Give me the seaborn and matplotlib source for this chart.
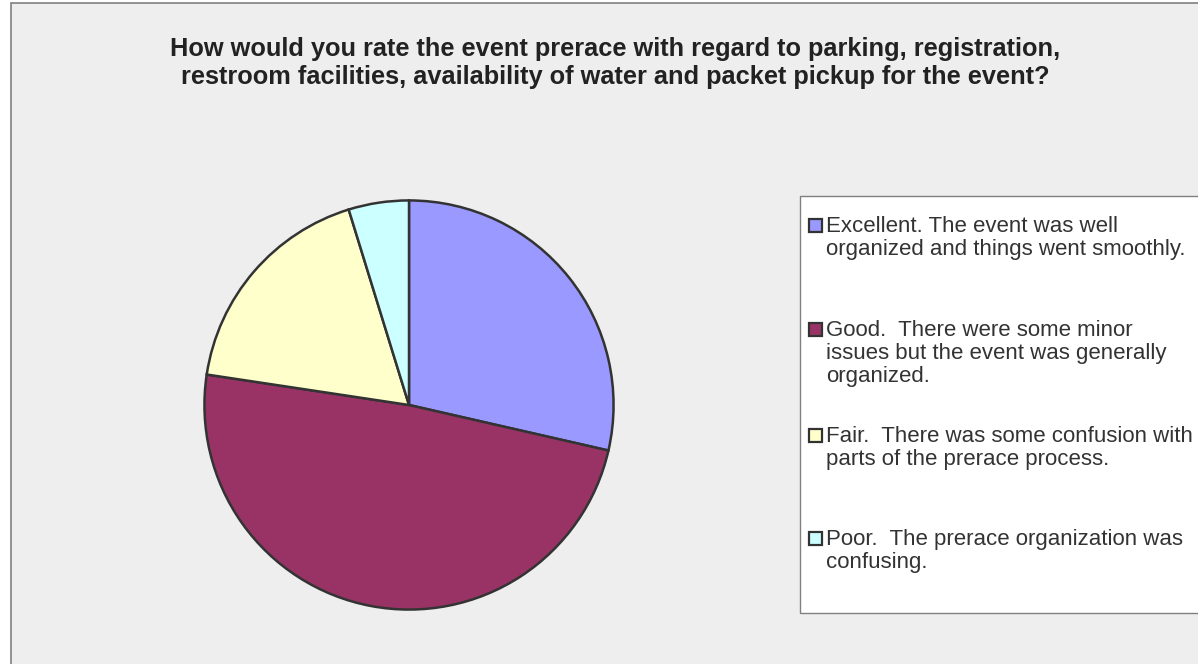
import matplotlib
matplotlib.use("Agg")
from matplotlib import pyplot as plt
from matplotlib.patches import Rectangle
import seaborn as sns
import pandas as pd

# survey answers
ratings = ["Excellent", "Good", "Fair", "Poor"]
counts = [24, 41, 15, 4]
labels = [
    "Excellent. The event was well\norganized and things went smoothly.",
    "Good.  There were some minor\nissues but the event was generally\norganized.",
    "Fair.  There was some confusion with\nparts of the prerace process.",
    "Poor.  The prerace organization was\nconfusing.",
]
colors = ["#9999FF", "#993366", "#FFFFCC", "#CCFFFF"]
title = ("How would you rate the event prerace with regard to parking, registration,\n"
         "restroom facilities, availability of water and packet pickup for the event?")

df = pd.DataFrame({"rating": ratings, "count": counts, "label": labels, "color": colors})

sns.set_style("white")
plt.rcParams["font.family"] = ["Liberation Sans", "DejaVu Sans"]

W, H = 1198, 664
fig = plt.figure(figsize=(W / 100, H / 100), dpi=100)
fig.patch.set_facecolor("white")

# pixel-space overlay for the chart frame, title and legend
bg = fig.add_axes([0, 0, 1, 1], zorder=0)
bg.set_xlim(0, W)
bg.set_ylim(H, 0)
bg.axis("off")
bg.add_patch(Rectangle((11, 3), W + 20, H + 20, facecolor="#EEEEEE",
                       edgecolor="#808080", linewidth=1.2))

for i, line in enumerate(title.split("\n")):
    bg.text(615, 56 + 28 * i, line, ha="center", va="baseline",
            fontsize=18.3, fontweight="bold", color="#222222")

# legend box
bg.add_patch(Rectangle((800, 196), W, 417, facecolor="white",
                       edgecolor="#808080", linewidth=1.0))
entry_y = [232, 336, 442, 545]
for y0, (_, row) in zip(entry_y, df.iterrows()):
    bg.add_patch(Rectangle((809, y0 - 13), 13, 13, facecolor=row["color"],
                           edgecolor="#333333", linewidth=1.6))
    for j, line in enumerate(row["label"].split("\n")):
        bg.text(826, y0 + 23 * j, line, ha="left", va="baseline",
                fontsize=16, color="#333333")

# the pie
cx, cy, r = 409, 405, 206
ax = fig.add_axes([(cx - r) / W, 1 - (cy + r) / H, 2 * r / W, 2 * r / H], zorder=2)
ax.pie(df["count"], colors=df["color"], startangle=90, counterclock=False,
       radius=0.993, wedgeprops=dict(edgecolor="#333333", linewidth=1.8))
ax.set_xlim(-1, 1)
ax.set_ylim(-1, 1)
ax.set_aspect("equal")
ax.axis("off")

plt.savefig("out.png", dpi=100)
